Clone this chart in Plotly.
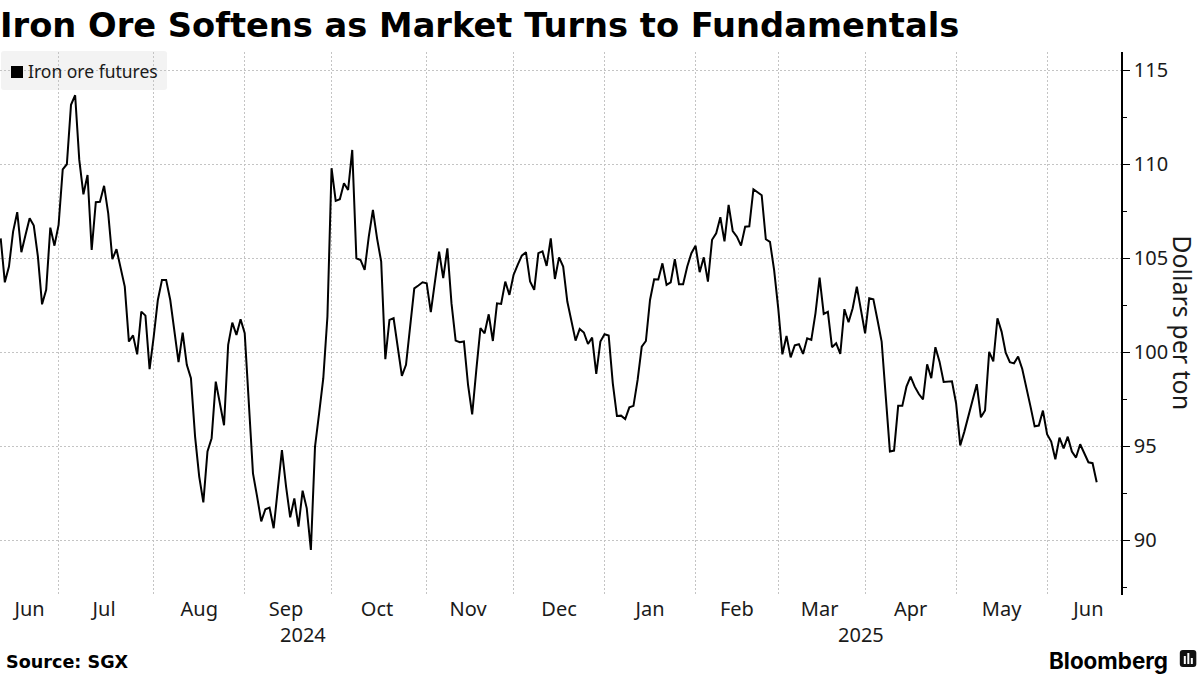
import pandas as pd
import plotly.graph_objects as go

TITLE = "Iron Ore Softens as Market Turns to Fundamentals"
SERIES = "Iron ore futures"
Y_TITLE = "Dollars per ton"
SOURCE = "Source: SGX"
HOLIDAYS = ["2025-01-01"]
MONTHS = ["Jun", "Jul", "Aug", "Sep", "Oct", "Nov", "Dec", "Jan", "Feb", "Mar", "Apr", "May", "Jun"]
Y_TICKS = [90, 95, 100, 105, 110, 115]

prices = [
    106.06, 103.72, 104.56, 106.42, 107.45, 105.32, 106.24, 107.13, 106.74, 105.09,
    102.55, 103.32, 106.63, 105.67, 106.77, 109.73, 110.00, 113.16, 113.67, 110.23,
    108.40, 109.43, 105.44, 107.98, 108.00, 108.85, 107.39, 104.95, 105.48, 104.56,
    103.49, 100.57, 100.90, 99.89, 102.16, 101.95, 99.10, 100.83, 102.78, 103.85,
    103.85, 102.78, 101.19, 99.47, 101.05, 99.33, 98.62, 95.51, 93.39, 92.02,
    94.72, 95.43, 98.44, 97.20, 96.12, 100.39, 101.58, 100.92, 101.76, 101.01,
    96.93, 93.56, 92.32, 91.01, 91.65, 91.74, 90.64, 92.85, 94.80, 92.85,
    91.22, 92.23, 90.73, 92.64, 91.70, 89.49, 94.98, 96.76, 98.62, 101.90,
    109.79, 108.05, 108.14, 108.99, 108.63, 110.76, 105.00, 104.91, 104.38, 106.15,
    107.57, 106.06, 104.82, 99.63, 101.72, 101.81, 100.39, 98.74, 99.33, 101.37,
    103.40, 103.55, 103.72, 103.67, 102.13, 103.76, 105.35, 103.94, 105.53, 102.60,
    100.62, 100.53, 100.57, 98.26, 96.70, 99.06, 101.28, 101.01, 102.02, 100.60,
    102.60, 102.57, 103.76, 103.05, 104.11, 104.65, 105.14, 105.32, 103.76, 103.32,
    105.27, 105.37, 104.59, 106.06, 103.90, 105.05, 104.56, 102.70, 101.72, 100.62,
    101.24, 101.05, 100.44, 100.78, 98.85, 100.57, 100.96, 100.89, 98.35, 96.61,
    96.63, 96.45, 97.07, 97.15, 98.53, 100.30, 100.60, 102.78, 103.88, 103.87,
    104.73, 103.58, 103.72, 104.95, 103.62, 103.62, 104.56, 105.27, 105.67, 104.26,
    105.05, 103.76, 105.98, 106.33, 107.18, 105.90, 107.84, 106.45, 106.15, 105.67,
    106.68, 106.70, 108.67, 108.49, 108.35, 106.01, 105.87, 104.38, 102.34, 99.89,
    100.87, 99.73, 100.37, 100.43, 99.91, 100.74, 100.66, 102.07, 103.97, 102.04,
    102.15, 100.27, 100.48, 99.91, 102.29, 101.60, 102.34, 103.49, 102.25, 101.01,
    102.87, 102.82, 101.72, 100.57, 97.64, 94.72, 94.77, 97.15, 97.15, 98.17,
    98.71, 98.17, 97.78, 97.50, 99.36, 98.62, 100.27, 99.50, 98.42, 98.42,
    98.46, 97.29, 95.04, 95.78, 96.58, 97.46, 98.30, 96.54, 96.90, 100.02,
    99.52, 101.81, 101.10, 99.98, 99.47, 99.41, 99.77, 99.11, 98.17, 97.11,
    96.06, 96.10, 96.90, 95.64, 95.25, 94.31, 95.46, 94.89, 95.51, 94.72,
    94.40, 95.11, 94.63, 94.15, 94.10, 93.09,
]

bdays = pd.bdate_range("2024-06-11", "2025-06-18")
dates = bdays[~bdays.isin(pd.to_datetime(HOLIDAYS))]
assert len(dates) == len(prices)

# First trading day of each month draws the gridlines; labels sit between them.
period = dates.to_period("M")
first_idx = [i for i in range(len(dates)) if i > 0 and period[i] != period[i - 1]]
grid_dates = [dates[i] for i in first_idx]
spans = [0] + first_idx + [first_idx[-1] + 20]
label_dates = [dates[(a + b) // 2] for a, b in zip(spans[:-1], spans[1:])]
first_2025 = next(i for i in range(len(dates)) if dates[i].year == 2025)
year_2024_date = dates[first_2025 // 2]
year_2025_date = dates[(first_2025 + len(dates) + 5) // 2]

W, H = 1200, 675
L, R, T, B = 0, 1120.7, 52, 595


def px(x):
    return (x - L) / (R - L)


def py(y):
    return (B - y) / (B - T)


def rounded(x0, y0, x1, y1, r):
    return (
        f"M{px(x0 + r)},{py(y0)} L{px(x1 - r)},{py(y0)} Q{px(x1)},{py(y0)} {px(x1)},{py(y0 + r)} "
        f"L{px(x1)},{py(y1 - r)} Q{px(x1)},{py(y1)} {px(x1 - r)},{py(y1)} "
        f"L{px(x0 + r)},{py(y1)} Q{px(x0)},{py(y1)} {px(x0)},{py(y1 - r)} "
        f"L{px(x0)},{py(y0 + r)} Q{px(x0)},{py(y0)} {px(x0 + r)},{py(y0)} Z"
    )


def paper_rect(x0, y0, x1, y1, color):
    return dict(type="rect", xref="paper", yref="paper", line_width=0, fillcolor=color,
                x0=px(x0), x1=px(x1), y0=py(y1), y1=py(y0))


GRID = dict(gridcolor="#c4c4c4", griddash="2px,2px", gridwidth=1)
fig = go.Figure()
fig.add_trace(go.Scatter(x=dates, y=prices, mode="lines", name=SERIES, showlegend=False,
                         line=dict(color="#000000", width=2), hoverinfo="skip"))

fig.update_layout(
    width=W, height=H, autosize=False,
    margin=dict(l=L, r=W - R, t=T, b=H - B, pad=0, autoexpand=False),
    paper_bgcolor="#ffffff", plot_bgcolor="#ffffff",
    font=dict(family="Noto Sans", color="#1a1a1a", size=20),
    xaxis=dict(
        type="date",
        range=[dates[0] - pd.Timedelta(hours=4), dates[-1] + pd.Timedelta(days=7, hours=21)],
        rangebreaks=[dict(bounds=["sat", "mon"]), dict(values=HOLIDAYS)],
        tickmode="array", tickvals=label_dates, ticktext=MONTHS, ticks="",
        showgrid=False, showline=False, zeroline=False,
        tickfont=dict(size=20, family="Noto Sans"),
        minor=dict(tickmode="array", tickvals=grid_dates, showgrid=True, ticks="", **GRID),
    ),
    yaxis=dict(
        side="right", range=[87.09, 115.97],
        tickmode="array", tickvals=Y_TICKS, ticks="outside", ticklen=7, tickcolor="#000000",
        showgrid=True, **GRID, zeroline=False,
        showline=True, linecolor="#000000", linewidth=1.5,
        tickfont=dict(size=20, family="Noto Sans"),
        minor=dict(dtick=2.5, tick0=90, ticks="outside", ticklen=4, tickcolor="#000000", showgrid=False),
    ),
    annotations=[
        dict(text="<b>" + TITLE + "</b>", x=px(-1.5), y=py(26), xref="paper", yref="paper",
             xanchor="left", yanchor="middle", showarrow=False,
             font=dict(family="DejaVu Sans", size=33.7, color="#000000")),
        dict(text=SERIES, x=px(25.5), y=py(71), xref="paper", yref="paper", xanchor="left",
             yanchor="middle", showarrow=False, font=dict(size=17.5)),
        dict(text=Y_TITLE, x=px(1182.5), y=py(323), xref="paper", yref="paper", textangle=90,
             xanchor="center", yanchor="middle", showarrow=False, font=dict(size=25)),
        dict(text="2024", x=year_2024_date, y=py(634), xref="x", yref="paper",
             yanchor="middle", showarrow=False),
        dict(text="2025", x=year_2025_date, y=py(634), xref="x", yref="paper",
             yanchor="middle", showarrow=False),
        dict(text="<b>" + SOURCE + "</b>", x=px(4), y=py(662), xref="paper", yref="paper",
             xanchor="left", yanchor="middle", showarrow=False,
             font=dict(family="DejaVu Sans", size=17.6, color="#000000")),
        dict(text="<b>Bloomberg</b>", x=px(1170), y=py(660), xref="paper", yref="paper",
             xanchor="right", yanchor="middle", showarrow=False,
             font=dict(family="Inter", size=22.4, color="#000000")),
    ],
    shapes=[
        dict(type="path", layer="below", xref="paper", yref="paper", line_width=0, fillcolor="#f3f3f3",
             path=rounded(1, 51, 167, 90, 3)),
        paper_rect(11, 66, 23, 78, "#000000"),
        dict(type="path", xref="paper", yref="paper", line_width=0, fillcolor="#111111",
             path=rounded(1179.5, 650, 1196, 667, 3)),
        paper_rect(1183.5, 656, 1185.5, 664, "#ffffff"),
        paper_rect(1187, 653, 1189, 664, "#ffffff"),
        paper_rect(1190.5, 658, 1192.5, 664, "#ffffff"),
    ],
)

fig.write_html("out.html", config=dict(displayModeBar=False),
               post_script="document.body.style.margin='0';document.body.style.overflow='hidden';")
